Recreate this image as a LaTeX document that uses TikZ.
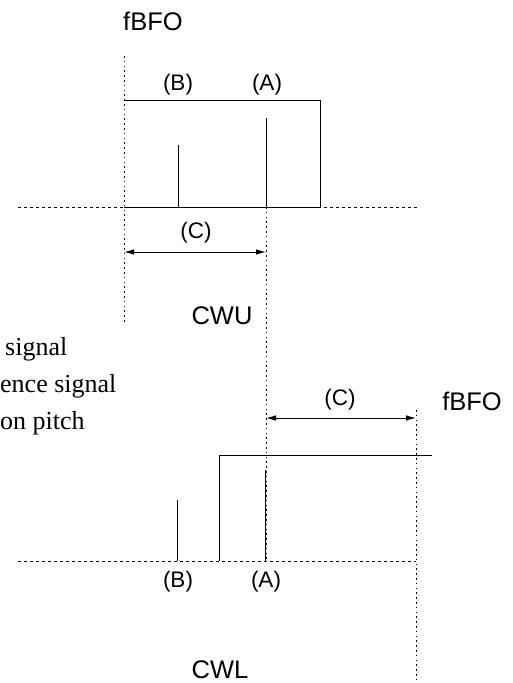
\documentclass[tikz,border=0pt]{standalone}
\usepackage{fontspec}
\setmainfont{Liberation Serif}
\newfontfamily\labelfont{Liberation Sans}
\usetikzlibrary{arrows.meta}
\begin{document}
\begin{tikzpicture}[x=1pt,y=-1pt,
  solidline/.style={line width=1pt},
  vdots/.style={line width=0.9pt, dash pattern=on 1.6pt off 3.2pt},
  hdash/.style={line width=0.9pt, dash pattern=on 3pt off 3pt},
  dimarrow/.style={line width=1pt,{Latex[length=10pt,width=5.5pt]}-{Latex[length=10pt,width=5.5pt]}},
  lbl/.style={font=\labelfont\fontsize{22.5}{26}\selectfont, inner sep=0pt},
  big/.style={font=\labelfont\fontsize{25.5}{30}\selectfont, inner sep=0pt},
  note/.style={font=\fontsize{26}{30}\selectfont, inner sep=0pt, anchor=base west}]
\useasboundingbox (0,0) rectangle (512,683);

% ---------- top panel ----------
\coordinate (tL0) at (124,56);
\coordinate (tL1) at (124,322);
\coordinate (tBase0) at (18,207);
\coordinate (tBase1) at (417,207);
\coordinate (tR0) at (124,207);
\coordinate (tRect1) at (124,100);
\coordinate (tRect2) at (320,100);
\coordinate (tRect3) at (320,207);
\coordinate (tB0) at (178,207);
\coordinate (tB1) at (178,145);
\coordinate (tA0) at (266,207);
\coordinate (tA1) at (266,118);
\coordinate (tC0) at (124,252);
\coordinate (tC1) at (266,252);
\coordinate (mid0) at (266,207);
\coordinate (mid1) at (266,561);

\draw[hdash] (tBase0) -- (tBase1);
\draw[vdots] (tL0) -- (tL1);
\draw[vdots] (mid0) -- (mid1);
\draw[solidline] (tRect1) -- (tRect2) -- (tRect3) -- (tR0);
\draw[solidline] (tB0) -- (tB1);
\draw[solidline] (tA0) -- (tA1);
\draw[dimarrow] (tC0) -- (tC1);

\node[big] (fbfoTop) at (153,21) {fBFO};
\node[lbl] (bTop) at (178,85) {(B)};
\node[lbl] (aTop) at (267,85) {(A)};
\node[lbl] (cTop) at (196,233) {(C)};
\node[big] (cwu) at (222,316) {CWU};

% ---------- notes at left ----------
\node[note] (n1) at (5,355) {signal};
\node[note] (n2) at (0,392) {ence signal};
\node[note] (n3) at (0,429) {on pitch};

% ---------- bottom panel ----------
\coordinate (bBase0) at (18,561);
\coordinate (bBase1) at (416,561);
\coordinate (bRect0) at (219,561);
\coordinate (bRect1) at (219,455);
\coordinate (bRect2) at (432,455);
\coordinate (bB0) at (177,561);
\coordinate (bB1) at (177,500);
\coordinate (bA0) at (265,561);
\coordinate (bA1) at (265,470);
\coordinate (bR0) at (416,410);
\coordinate (bR1) at (416,683);
\coordinate (bC0) at (266,418);
\coordinate (bC1) at (416,418);

\draw[hdash] (bBase0) -- (bBase1);
\draw[vdots] (bR0) -- (bR1);
\draw[solidline] (bRect0) -- (bRect1) -- (bRect2);
\draw[solidline] (bB0) -- (bB1);
\draw[solidline] (bA0) -- (bA1);
\draw[dimarrow] (bC0) -- (bC1);

\node[lbl] (cBot) at (340,400) {(C)};
\node[big] (fbfoBot) at (472,401) {fBFO};
\node[lbl] (bBot) at (178,582) {(B)};
\node[lbl] (aBot) at (266,582) {(A)};
\node[big] (cwl) at (220,670) {CWL};
\end{tikzpicture}
\end{document}
